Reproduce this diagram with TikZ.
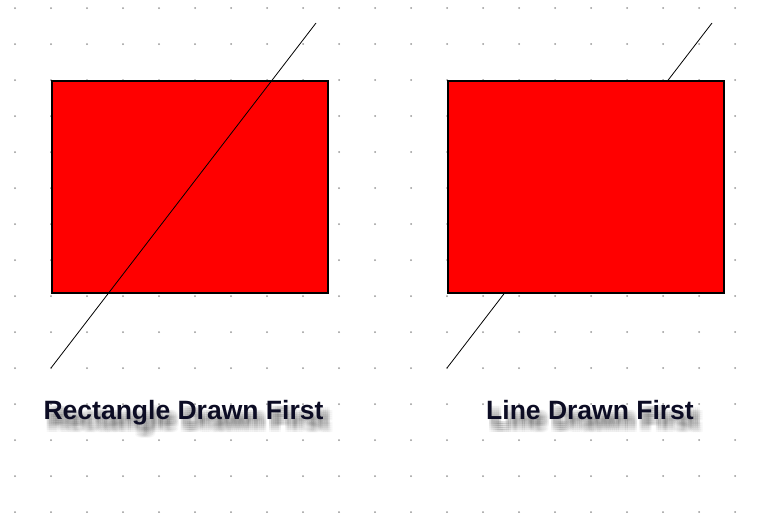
\documentclass[tikz,border=0pt]{standalone}
\usepackage{fontspec}
\setmainfont{Liberation Sans}
\usetikzlibrary{positioning}
\definecolor{dotgray}{RGB}{150,150,150}
\definecolor{boxred}{RGB}{255,0,0}
\definecolor{inkdark}{RGB}{12,12,36}

\begin{document}
\begin{tikzpicture}[
    x=1pt, y=-1pt,
    redbox/.style={rectangle, draw, fill=boxred, line width=1.5pt, anchor=north west,
                   minimum width=276pt, minimum height=212pt, inner sep=0pt},
    slash/.style={line width=0.8pt},
    caption/.style={font=\fontsize{26.5}{30}\selectfont\bfseries, anchor=base,
                    inner sep=0pt, text=inkdark},
    blur/.style={caption, text=black, text opacity=0.032}
  ]
    \useasboundingbox (0,0) rectangle (767,512);

    % dot grid
    \foreach \i in {0,...,20}
      \foreach \j in {0,...,14}
        \fill[dotgray] (15+36*\i, 8+36*\j) circle (1pt);

    % left: rectangle first, then the line on top
    \node[redbox] (rectA) at (51,80) {};
    \coordinate (a1) at (51,368);
    \coordinate (a2) at (316,23);
    \draw[slash] (a1) -- (a2);

    % right: line first, then the rectangle over it
    \coordinate (b1) at (447,368);
    \coordinate (b2) at (712,23);
    \draw[slash] (b1) -- (b2);
    \node[redbox] (rectB) at (447,80) {};

    % captions with soft shadow
    \foreach \dx in {-4,-2,...,4}
      \foreach \dy in {-4,-2,...,4} {
        \node[blur] at (189+\dx, 428+\dy) {Rectangle Drawn First};
        \node[blur] at (595.5+\dx, 428+\dy) {Line Drawn First};
      }
    \node[caption] (capA) at (183.5,419) {Rectangle Drawn First};
    \node[caption] (capB) at (590,419) {Line Drawn First};
\end{tikzpicture}
\end{document}
